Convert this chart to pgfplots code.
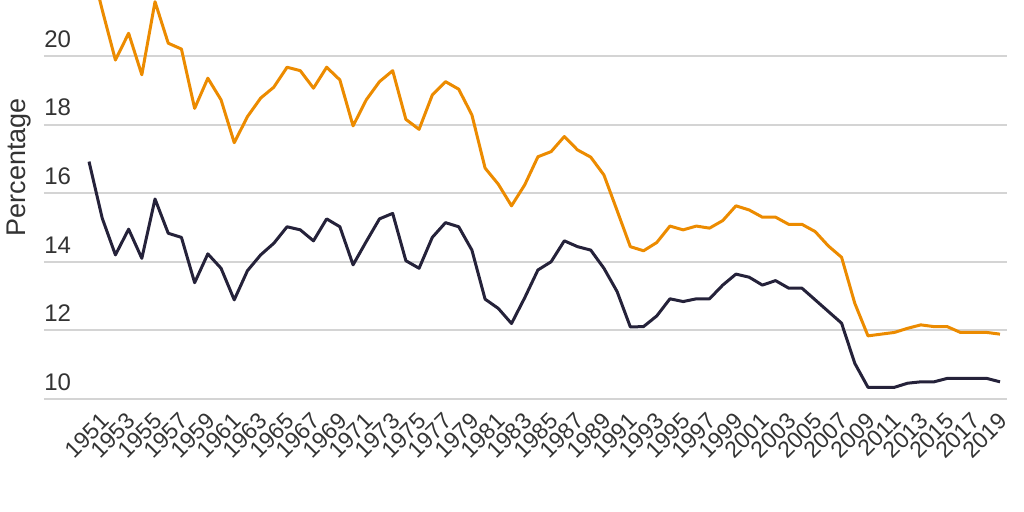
\documentclass[border=0pt]{standalone}
\usepackage{pgfplots}
\pgfplotsset{compat=1.18}
\usepackage{pgfplotstable}
\usepackage{fontspec}
\setmainfont{Liberation Sans}

\definecolor{lineorange}{RGB}{236,139,0}
\definecolor{linenavy}{RGB}{37,34,58}
\definecolor{gridgray}{RGB}{212,212,212}
\definecolor{textgray}{RGB}{51,51,51}

% year, lower series, upper series
\pgfplotstableread{
year lower upper
1950 16.92 22.90
1951 15.27 21.34
1952 14.20 19.88
1953 14.95 20.66
1954 14.10 19.45
1955 15.83 21.58
1956 14.83 20.37
1957 14.71 20.20
1958 13.39 18.47
1959 14.23 19.35
1960 13.81 18.72
1961 12.89 17.47
1962 13.74 18.23
1963 14.20 18.77
1964 14.54 19.09
1965 15.02 19.67
1966 14.93 19.57
1967 14.61 19.06
1968 15.25 19.67
1969 15.02 19.30
1970 13.91 17.96
1971 14.59 18.72
1972 15.25 19.25
1973 15.41 19.57
1974 14.03 18.15
1975 13.81 17.86
1976 14.71 18.86
1977 15.14 19.25
1978 15.02 19.03
1979 14.34 18.28
1980 12.91 16.73
1981 12.64 16.26
1982 12.20 15.63
1983 12.95 16.24
1984 13.76 17.06
1985 14.00 17.21
1986 14.61 17.65
1987 14.44 17.26
1988 14.34 17.05
1989 13.81 16.53
1990 13.13 15.49
1991 12.10 14.44
1992 12.11 14.32
1993 12.42 14.56
1994 12.92 15.04
1995 12.84 14.93
1996 12.92 15.04
1997 12.92 14.98
1998 13.32 15.20
1999 13.64 15.63
2000 13.55 15.51
2001 13.32 15.30
2002 13.45 15.30
2003 13.23 15.09
2004 13.23 15.09
2005 12.89 14.88
2006 12.55 14.46
2007 12.21 14.13
2008 11.04 12.79
2009 10.34 11.84
2010 10.34 11.89
2011 10.34 11.94
2012 10.46 12.06
2013 10.50 12.16
2014 10.50 12.11
2015 10.60 12.11
2016 10.60 11.94
2017 10.60 11.94
2018 10.60 11.94
2019 10.50 11.89
}\ratedata

\begin{document}
\begin{tikzpicture}
\begin{axis}[
    scale only axis,
    width=481.5pt, height=199.5pt,
    xmin=1946.59, xmax=2019.53,
    ymin=10, ymax=21.63,
    xtick={1951,1953,...,2019},
    ytick={10,12,...,20},
    /pgf/number format/assume math mode=true,
    /pgf/number format/1000 sep={},
    axis line style={draw=none},
    tick style={draw=none},
    ymajorgrids,
    major grid style={gridgray, line width=1pt},
    tick label style={text=textgray},
    yticklabel style={font=\fontsize{12}{14}\selectfont, anchor=south west, inner sep=0pt, yshift=4pt},
    xticklabel style={font=\fontsize{11.5}{13}\selectfont, rotate=45, anchor=north east, inner sep=0pt, xshift=-5.3pt, yshift=-3.2pt},
    ylabel={Percentage},
    ylabel style={font=\fontsize{13.5}{16}\selectfont, text=textgray,
        at={(rel axis cs:-0.026,0.581)}, anchor=center},
    clip=true,
]
\addplot[lineorange, line width=1.5pt, line join=round] table[x=year, y=upper] {\ratedata};
\addplot[linenavy, line width=1.5pt, line join=round] table[x=year, y=lower] {\ratedata};
\end{axis}
\pgfresetboundingbox
\path[use as bounding box] (-22pt,-56.5pt) rectangle (490pt,199.5pt);
\end{tikzpicture}
\end{document}
